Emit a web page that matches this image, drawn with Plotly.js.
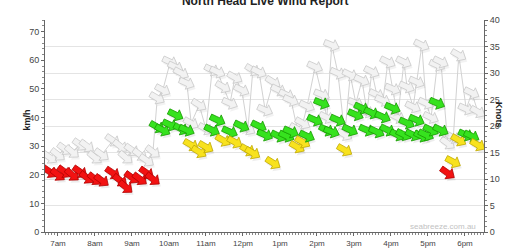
<!DOCTYPE html>
<html><head><meta charset="utf-8">
<script src="https://cdn.plot.ly/plotly-3.0.1.min.js"></script>
<style>html,body{margin:0;padding:0;background:#fff}#chart{width:509px;height:248px}</style>
</head><body><div id="chart"></div>
<script>
// ---- data ----
const times = ['6:47','7:00','7:11','7:23','7:36','7:47','8:00','8:11','8:29','8:41','8:50','9:00','9:13','9:24','9:34',
 '9:41','9:50','10:02','10:11','10:20','10:29','10:36','10:49','11:00','11:10',
 '11:19','11:28','11:39','11:47','11:58','12:08','12:16','12:26','12:36','12:49',
 '12:58','13:11','13:18','13:28','13:37','13:44','13:57','14:08','14:16','14:24',
 '14:34','14:45','14:54','15:03','15:13','15:21','15:29','15:37','15:47','15:55',
 '16:03','16:11','16:21','16:26','16:36','16:42','16:50','16:57','17:05','17:15',
 '17:21','17:32','17:41','17:50','18:02','18:11','18:21'];
const windKmh = [21,20,21,20,21,19,18.5,18,20.6,18,15.7,19,18.5,20.6,18.5,
 36.7,35.6,37.4,40.9,36,35.6,30.4,28,29.7,35.6,
 39.1,32,35,31.4,37,28.6,27.6,37,33.9,24.1,
 33.5,33.5,35,29.7,31.4,33.5,39.1,45,35.6,35,
 39.1,28.6,35.6,41,43.3,35.6,41.6,35,40.2,35.6,
 43.3,33.9,34,38.1,33.9,39.1,33.5,33.9,35.6,45,
 35.6,20.6,24.5,32.1,33.9,33.5,30.4];
const gustKmh = [26,27,29,28,30.5,30,26,27,32,30,26,28.6,27,25,28,
 46.8,49.6,59.4,57.6,55.5,52,38,44.4,36,56.6,
 55.9,50.7,45,54,49.6,36,56.6,55.9,42.6,52.4,
 49.6,47.9,46,36,38,44,57.7,48,40,65.3,
 55.5,34,54.9,45,53,42,56,48,46,59.4,
 50,40,59.4,50.7,43.7,52.4,65.3,45,40,58.3,
 59.4,31,33,61.8,43,48.6,42];
const windFromDeg = [305,308,306,310,305,307,309,306,304,308,310,306,307,305,308,
 300,298,295,296,298,294,300,302,300,296,
 295,300,294,299,296,300,301,296,294,302,
 296,295,294,300,300,295,294,292,296,292,
 294,300,296,293,295,294,296,295,294,296,
 293,296,296,294,296,294,296,295,296,294,
 296,305,298,300,294,296,300];
const hourTicks = [7,8,9,10,11,12,13,14,15,16,17,18];
const hourLabels = ['7am','8am','9am','10am','11am','12pm','1pm','2pm','3pm','4pm','5pm','6pm'];
const KMH_PER_KNOT = 1.852;

// ---- helpers ----
const toHours = t => { const [h, m] = t.split(':').map(Number); return h + m / 60; };
const xs = times.map(toHours);

function windColors(v) {
  const kn = v / KMH_PER_KNOT;
  if (kn < 12) return ['#f21212', '#b00000'];
  if (kn < 18) return ['#f8e21e', '#bfa800'];
  return ['#36e21e', '#179a00'];
}
function arrowPath(fromDeg, dx, dy) {
  const screenDeg = ((fromDeg + 180) % 360) - 90; // degrees below horizontal
  const a = screenDeg * Math.PI / 180, c = Math.cos(a), s = Math.sin(a);
  const pts = [[-8, 2.9], [1, 2.9], [1, 6.2], [8, 0], [1, -6.2], [1, -2.9], [-8, -2.9]];
  return 'M' + pts.map(([x, y]) => {
    const X = x * c + y * s + dx, Y = -x * s + y * c + dy;
    return X.toFixed(2) + ',' + Y.toFixed(2);
  }).join('L') + 'Z';
}
function arrowShape(x, y, dir, fill, edge, dx, dy, lw) {
  return { type: 'path', xref: 'x', yref: 'y', xsizemode: 'pixel', ysizemode: 'pixel',
    xanchor: x, yanchor: y, path: arrowPath(dir, dx, dy), fillcolor: fill,
    line: { color: edge, width: lw }, layer: 'above' };
}

const shapes = [];
// shadows + gust arrows
xs.forEach((x, i) => shapes.push(arrowShape(x, gustKmh[i], windFromDeg[i], 'rgba(0,0,0,0.05)', 'rgba(0,0,0,0)', 1.5, -2.5, 0)));
xs.forEach((x, i) => shapes.push(arrowShape(x, gustKmh[i], windFromDeg[i], '#f2f2f2', '#c8c8c8', 0, 0, 0.8)));
// shadows + wind arrows
xs.forEach((x, i) => shapes.push(arrowShape(x, windKmh[i], windFromDeg[i], 'rgba(0,0,0,0.07)', 'rgba(0,0,0,0)', 1.5, -2.5, 0)));
xs.forEach((x, i) => { const [f, e] = windColors(windKmh[i]); shapes.push(arrowShape(x, windKmh[i], windFromDeg[i], f, e, 0, 0, 0.8)); });

const font = { family: '"Liberation Sans", Arial, sans-serif', size: 9, color: '#444' };

const traces = [
  { x: xs, y: gustKmh, type: 'scatter', mode: 'lines', line: { color: '#d2d2d2', width: 1 }, hoverinfo: 'skip', yaxis: 'y' },
  { x: xs, y: windKmh.map(v => v / KMH_PER_KNOT), type: 'scatter', mode: 'lines', line: { width: 0 }, opacity: 0, hoverinfo: 'skip', yaxis: 'y2' }
];

const layout = {
  width: 509, height: 248,
  margin: { l: 45, r: 25, t: 20, b: 16, pad: 0 },
  paper_bgcolor: '#fff', plot_bgcolor: '#fff',
  showlegend: false,
  font: font,
  title: { text: '<b>North Head Live Wind Report</b>', font: { family: font.family, size: 12, color: '#222' },
           x: 0.521, xanchor: 'center', xref: 'container', y: 0.995, yref: 'container', yanchor: 'middle' },
  xaxis: { range: [6.649, 18.514], tickmode: 'array', tickvals: hourTicks, ticktext: hourLabels,
           ticks: 'outside', ticklen: 3, tickcolor: '#666', showline: true, linecolor: '#666', linewidth: 1,
           showgrid: false, zeroline: false, tickfont: { size: 8, color: '#444' },
           minor: { tickmode: 'linear', tick0: 0, dtick: 1 / 12, ticks: 'outside', ticklen: 2, tickcolor: '#888' } },
  yaxis: { range: [0, 40 * KMH_PER_KNOT], dtick: 10, ticks: 'outside', ticklen: 3, tickcolor: '#666',
           showline: true, linecolor: '#666', showgrid: false, zeroline: false, tickfont: { size: 9, color: '#444' },
           minor: { dtick: 2, ticks: 'outside', ticklen: 2, tickcolor: '#888' } },
  yaxis2: { overlaying: 'y', side: 'right', range: [0, 40], dtick: 5, ticks: 'outside', ticklen: 3, tickcolor: '#666',
            showline: true, linecolor: '#666', showgrid: true, gridcolor: '#e4e4e4', gridwidth: 1, zeroline: false,
            tickfont: { size: 9, color: '#444' },
            minor: { dtick: 1, ticks: 'outside', ticklen: 2, tickcolor: '#888' } },
  shapes: shapes,
  annotations: [
    { text: '<b>km/h</b>', xref: 'paper', yref: 'paper', x: -0.056, y: 0.528, textangle: -90, showarrow: false,
      font: { family: font.family, size: 9, color: '#222' } },
    { text: '<b>Knots</b>', xref: 'paper', yref: 'paper', x: 1.05, y: 0.552, textangle: 90, showarrow: false,
      font: { family: font.family, size: 9, color: '#222' } },
    { text: 'seabreeze.com.au', xref: 'paper', yref: 'paper', x: 0.986, y: 0.028, xanchor: 'right', yanchor: 'middle',
      showarrow: false, font: { family: font.family, size: 8, color: '#c2c2c2' } }
  ]
};

Plotly.newPlot('chart', traces, layout, { staticPlot: true, displayModeBar: false });
</script>
</body></html>
